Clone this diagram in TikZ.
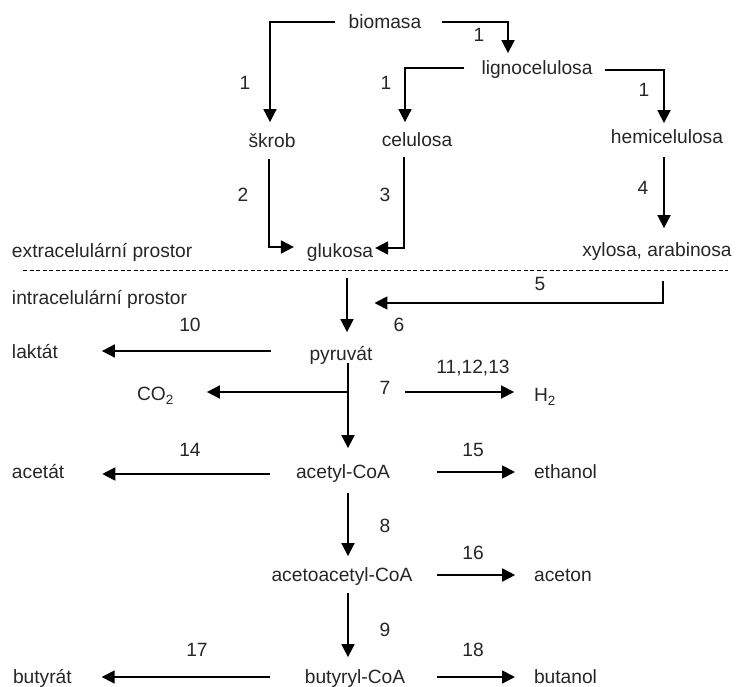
\documentclass[tikz,border=0pt]{standalone}
\usepackage{fontspec}
\setmainfont{Liberation Sans}
\usetikzlibrary{arrows.meta}
\tikzset{
  lbl/.style={inner sep=0pt, outer sep=0pt, text height=13.8pt, text depth=0pt,
              text=black!85, font=\fontsize{19.2}{23}\selectfont},
  arr/.style={line width=1.8pt, -{Triangle[length=13pt,width=13pt]}},
  divider/.style={line width=1pt, dash pattern=on 4pt off 2.5pt}
}
\begin{document}
\begin{tikzpicture}[x=1pt,y=-1pt]
\useasboundingbox (0,0) rectangle (742,687);
% substances
\node[lbl] (biomasa) at (385,22) {biomasa};
\node[lbl] (ligno) at (537,68) {lignocelulosa};
\node[lbl] (skrob) at (272,141) {škrob};
\node[lbl] (celulosa) at (417,140) {celulosa};
\node[lbl] (hemi) at (667,137) {hemicelulosa};
\node[lbl] (glukosa) at (340,251) {glukosa};
\node[lbl] (xylosa) at (657,250) {xylosa, arabinosa};
\node[lbl,anchor=west] (extra) at (12,251) {extracelulární prostor};
\node[lbl,anchor=west] (intra) at (12,298) {intracelulární prostor};
\node[lbl] (pyruvat) at (341,354) {pyruvát};
\node[lbl,anchor=west] (laktat) at (12,352) {laktát};
\node[lbl] (co2) at (155.5,394) {CO\textsubscript{2}};
\node[lbl] (h2) at (545,395) {H\textsubscript{2}};
\node[lbl] (acetyl) at (343,472) {acetyl-CoA};
\node[lbl,anchor=west] (acetat) at (12,472) {acetát};
\node[lbl] (ethanol) at (565.5,472) {ethanol};
\node[lbl] (acetoacetyl) at (342,575) {acetoacetyl-CoA};
\node[lbl] (aceton) at (563,575) {aceton};
\node[lbl] (butyryl) at (355,677) {butyryl-CoA};
\node[lbl,anchor=west] (butyrat) at (13,677) {butyrát};
\node[lbl] (butanol) at (565.5,677) {butanol};
% reaction numbers
\node[lbl] (n1a) at (245,83) {1};
\node[lbl] (n1b) at (479,35) {1};
\node[lbl] (n1c) at (386,83) {1};
\node[lbl] (n1d) at (644,90) {1};
\node[lbl] (n2) at (243,195) {2};
\node[lbl] (n3) at (385,195) {3};
\node[lbl] (n4) at (643,188) {4};
\node[lbl] (n5) at (540,284) {5};
\node[lbl] (n6) at (399,325) {6};
\node[lbl] (n10) at (190,325) {10};
\node[lbl] (n7) at (385,388) {7};
\node[lbl] (n111213) at (473,367) {11,12,13};
\node[lbl] (n14) at (190,450) {14};
\node[lbl] (n15) at (473,450) {15};
\node[lbl] (n8) at (385,526) {8};
\node[lbl] (n16) at (473,553) {16};
\node[lbl] (n9) at (385,630) {9};
\node[lbl] (n17) at (197,650) {17};
\node[lbl] (n18) at (473,650) {18};
% extracellular connectors
\draw[arr] ([xshift=-14pt]biomasa.west) -| ([xshift=-2pt,yshift=12pt]skrob.north);
\draw[arr] ([xshift=21pt]biomasa.east) -| ([xshift=-29pt,yshift=8pt]ligno.north);
\draw[arr] ([xshift=-17pt]ligno.west) -| ([xshift=-12pt,yshift=11pt]celulosa.north);
\draw[arr] ([xshift=12pt,yshift=-2pt]ligno.east) -| ([xshift=-3pt,yshift=7pt]hemi.north);
\draw[arr] ([xshift=-3pt,yshift=-11pt]skrob.south) |- ([xshift=-13pt,yshift=4pt]glukosa.west);
\draw[arr] ([xshift=-13pt,yshift=-10pt]celulosa.south) |- ([xshift=2pt,yshift=3pt]glukosa.east);
\draw[arr] ([xshift=-3pt,yshift=-13pt]hemi.south) -- ([xshift=7pt,yshift=15pt]xylosa.north);
% membrane
\draw[divider] (23,271) -- (728,271);
% intracellular connectors
\draw[arr] ([xshift=7pt,yshift=-20pt]glukosa.south) -- ([xshift=6pt,yshift=15pt]pyruvat.north);
\draw[arr] ([xshift=6pt,yshift=-24pt]xylosa.south) |- ([xshift=2pt,yshift=51pt]pyruvat.east);
\draw[arr] ([xshift=-39pt,yshift=3pt]pyruvat.west) -- ([xshift=44pt,yshift=1pt]laktat.east);
\draw[arr] ([xshift=7pt,yshift=-2pt]pyruvat.south) -- ([xshift=5pt,yshift=17pt]acetyl.north);
\coordinate (br) at (348,392);
\draw[arr] (br) -- ([xshift=33pt,yshift=2pt]co2.east);
\draw[arr] ([xshift=57pt]br) -- ([xshift=-20pt,yshift=3pt]h2.west);
\draw[arr] ([xshift=-26pt,yshift=-2pt]acetyl.west) -- ([xshift=38pt,yshift=-2pt]acetat.east);
\draw[arr] ([xshift=47pt]acetyl.east) -- ([xshift=-19pt]ethanol.west);
\draw[arr] ([xshift=5pt,yshift=-14pt]acetyl.south) -- ([xshift=6pt,yshift=12pt]acetoacetyl.north);
\draw[arr] ([xshift=25pt]acetoacetyl.east) -- ([xshift=-19pt]aceton.west);
\draw[arr] ([xshift=6pt,yshift=-11pt]acetoacetyl.south) -- ([xshift=-7pt,yshift=13pt]butyryl.north);
\draw[arr] ([xshift=-34.5pt]butyryl.west) -- ([xshift=30pt]butyrat.east);
\draw[arr] ([xshift=31.5pt]butyryl.east) -- ([xshift=-19pt]butanol.west);
\end{tikzpicture}
\end{document}
